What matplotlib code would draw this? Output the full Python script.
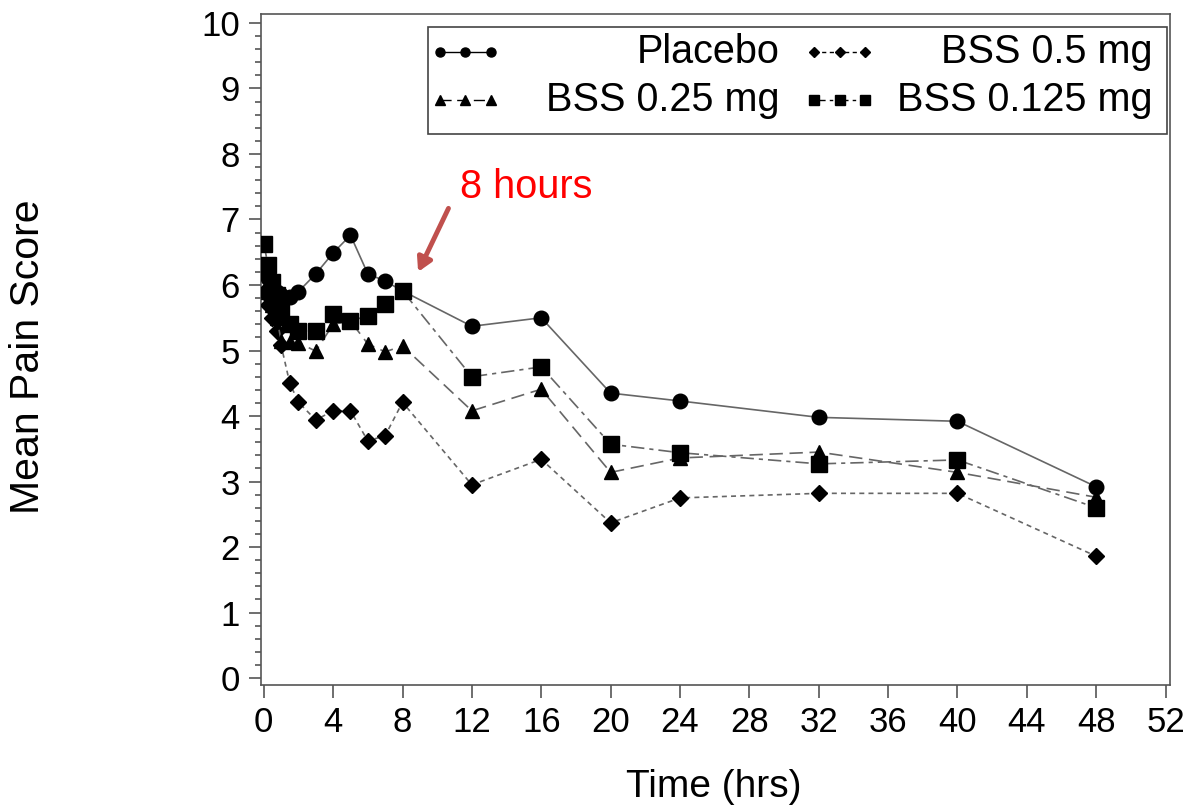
import numpy as np
import matplotlib
matplotlib.use("Agg")
import matplotlib.pyplot as plt
from matplotlib.lines import Line2D
from matplotlib.patches import Rectangle
from matplotlib.ticker import MultipleLocator

plt.rcParams['font.family'] = ['Liberation Sans', 'DejaVu Sans']

# ── Data ──────────────────────────────────────────────────────
hours = [0, 0.25, 0.5, 0.75, 1, 1.5, 2, 3, 4, 5, 6, 7, 8, 12, 16, 20, 24, 32, 40, 48]
placebo = [6.30, 6.10, 6.00, 5.90, 5.85, 5.82, 5.90, 6.17, 6.49, 6.76, 6.17, 6.06, 5.91,
           5.37, 5.50, 4.35, 4.23, 3.98, 3.92, 2.92]
bss_05 = [5.90, 5.70, 5.50, 5.30, 5.08, 4.50, 4.21, 3.94, 4.08, 4.08, 3.62, 3.70, 4.21,
          2.95, 3.34, 2.37, 2.75, 2.82, 2.82, 1.86]
bss_025 = [6.20, 5.90, 5.70, 5.50, 5.15, 5.13, 5.12, 4.99, 5.40, 5.45, 5.10, 4.98, 5.07,
           4.08, 4.41, 3.14, 3.36, 3.45, 3.14, 2.76]
bss_0125 = [6.63, 6.30, 6.05, 5.85, 5.60, 5.40, 5.30, 5.30, 5.56, 5.45, 5.53, 5.71, 5.91,
            4.60, 4.75, 3.57, 3.44, 3.27, 3.33, 2.60]

x_ticks = list(range(0, 53, 4))
y_ticks = list(range(0, 11))

LINE_C = "#666666"
series = [
    ("Placebo",       placebo,  "o", 10.5, "-"),
    ("BSS 0.5 mg",    bss_05,   "D", 8,    (0, (3, 2.5))),
    ("BSS 0.25 mg",   bss_025,  "^", 10.5, (0, (8, 4))),
    ("BSS 0.125 mg",  bss_0125, "s", 11,   (0, (8, 3, 2.5, 3))),
]

fig = plt.figure(figsize=(11.91, 8.11), dpi=100)
ax = fig.add_axes([0.219, 0.155, 0.763, 0.828])

for name, vals, mk, ms, ls in series:
    ax.plot(hours, vals, color=LINE_C, lw=1.2, ls=ls, marker=mk, ms=ms,
            mfc="black", mec="black", zorder=3)

ax.set_xlim(-0.17, 52.23)
ax.set_ylim(-0.11, 10.14)
ax.set_xticks(x_ticks)
ax.set_yticks(y_ticks)
ax.yaxis.set_minor_locator(MultipleLocator(0.2))
ax.tick_params(axis="both", which="major", labelsize=25, direction="out",
               length=9, width=1.2, color="#555555", pad=6)
ax.tick_params(axis="y", which="minor", direction="out", length=4, width=1.2,
               color="#555555")
for s in ax.spines.values():
    s.set_color("#555555")
    s.set_linewidth(1.2)

ax.set_xlabel("Time (hrs)", fontsize=28)
ax.set_ylabel("Mean Pain Score", fontsize=29.5)
ax.xaxis.set_label_coords(0.498, -0.124)
ax.yaxis.set_label_coords(-0.235, 0.49)

# ── Legend drawn by hand (labels right-aligned like the original) ──
ax.add_patch(Rectangle((0.184, 0.821), 0.813, 0.160, transform=ax.transAxes,
                       fill=False, ec="#444444", lw=1.2, zorder=5))
leg_pos = [
    (0, (0.197, 0.943), 0.571),
    (1, (0.609, 0.943), 0.981),
    (2, (0.197, 0.872), 0.571),
    (3, (0.609, 0.872), 0.981),
]
for idx, (hx, hy), tx in leg_pos:
    name, vals, mk, ms, ls = series[idx]
    ax.add_line(Line2D([hx, hx + 0.028, hx + 0.056], [hy, hy, hy],
                       transform=ax.transAxes, color="black", lw=1.0, ls=ls,
                       marker=mk, ms=6.5 if mk != "D" else 5, mfc="black",
                       mec="black", zorder=6))
    ax.text(tx, hy, name, transform=ax.transAxes, ha="right", va="center",
            fontsize=28.5, zorder=6)

# ── "8 hours" annotation ─────────────────────────────────────
ax.annotate("", xy=(8.9, 6.2), xytext=(10.65, 7.17),
            arrowprops=dict(arrowstyle="-|>,head_length=0.8,head_width=0.45",
                            color="#c0504d", lw=3.5, shrinkA=0, shrinkB=0))
ax.text(11.3, 7.5, "8 hours", color="#ff0000", fontsize=28.5, ha="left", va="center")

fig.savefig("out.png", dpi=100)
